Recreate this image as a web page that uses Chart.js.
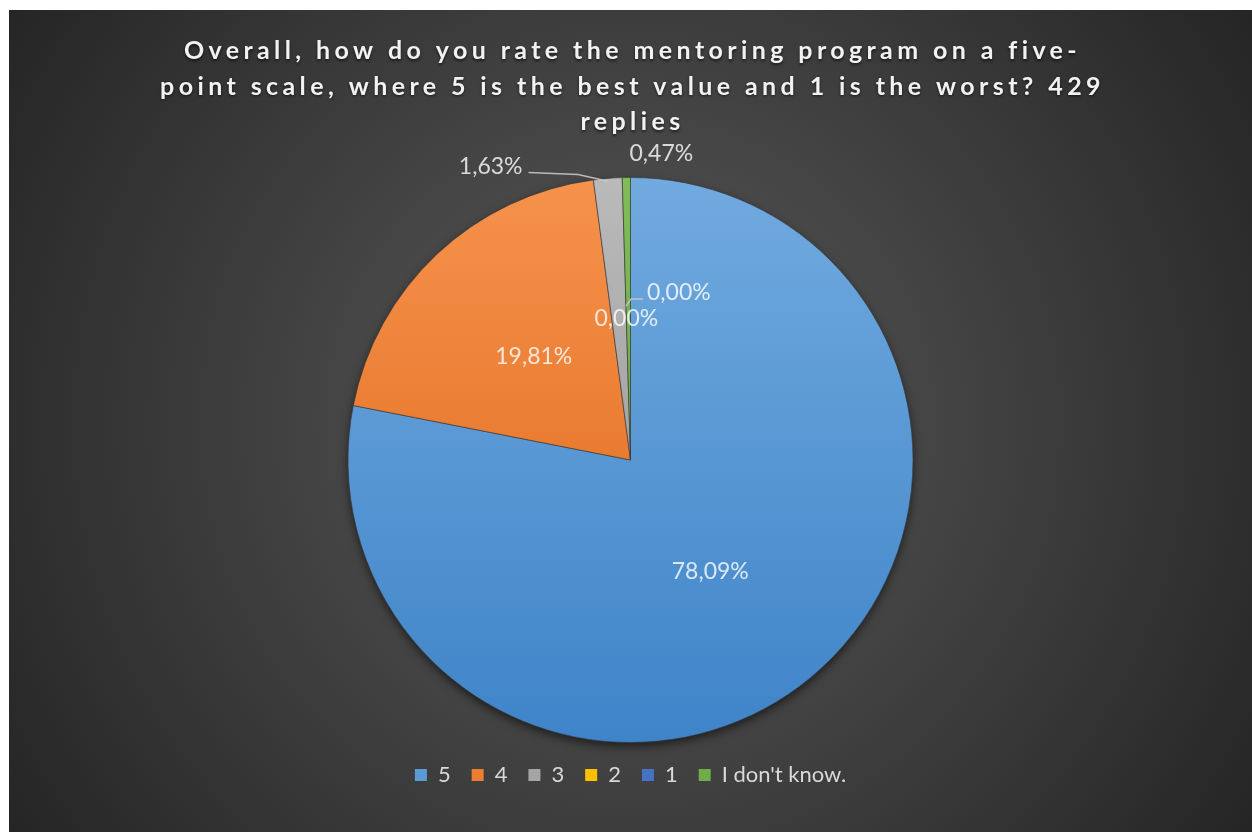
<!DOCTYPE html>
<html>
<head>
<meta charset="utf-8">
<script src="https://cdn.jsdelivr.net/npm/chart.js@4.4.1/dist/chart.umd.min.js"></script>
<style>
  html, body { margin: 0; padding: 0; background: #fff; }
  #wrap { position: absolute; left: 9px; top: 10px; width: 1243px; height: 822px; }
</style>
</head>
<body>
<div id="wrap"><canvas id="chart1"></canvas></div>
<script>
const titleLines = [
  'Overall, how do you rate the mentoring program on a five-',
  'point scale, where 5 is the best value and 1 is the worst? 429',
  'replies'
];
const categories = ['5', '4', '3', '2', '1', "I don't know."];
const replies = [335, 85, 7, 0, 0, 2];

// flat colours for the legend, top/bottom pairs for the slice shading
const sliceColors = ['#5b9bd5', '#ed7d31', '#a5a5a5', '#ffc000', '#4472c4', '#70ad47'];
const sliceTop = ['#71aadf', '#f6924c', '#bababa', '#ffcb2f', '#5582d0', '#80bd58'];
const sliceBottom = ['#3e84c8', '#dd6416', '#8e8e8e', '#f0b000', '#3763b5', '#5f9c38'];

const total = replies.reduce((a, b) => a + b, 0);
const pct = v => (v / total * 100).toFixed(2).replace('.', ',') + '%';

// background + title
const backdrop = {
  id: 'backdrop',
  beforeDraw(chart) {
    const { ctx, width, height } = chart;
    ctx.save();
    const g = ctx.createRadialGradient(width / 2, height * 0.5, 0, width / 2, height * 0.5, 760);
    g.addColorStop(0, '#5a5a5a');
    g.addColorStop(1, '#242424');
    ctx.fillStyle = g;
    ctx.fillRect(0, 0, width, height);

    ctx.font = 'bold 25px Lato';
    ctx.letterSpacing = '4.4px';
    ctx.textAlign = 'center';
    ctx.textBaseline = 'middle';
    ctx.fillStyle = '#f2f2f2';
    ctx.shadowColor = 'rgba(0,0,0,0.6)';
    ctx.shadowBlur = 3;
    ctx.shadowOffsetY = 1.5;
    titleLines.forEach((line, i) => ctx.fillText(line, width / 2 + 2, 41 + i * 35.5));
    ctx.restore();
  },
  // soft shadow under the pie
  beforeDatasetsDraw(chart) {
    const arc = chart.getDatasetMeta(0).data[0];
    if (!arc) return;
    const { x, y, outerRadius } = arc.getProps(['x', 'y', 'outerRadius'], true);
    const ctx = chart.ctx;
    ctx.save();
    ctx.shadowColor = 'rgba(0,0,0,0.55)';
    ctx.shadowBlur = 10;
    ctx.shadowOffsetY = 4;
    ctx.fillStyle = '#333';
    ctx.beginPath();
    ctx.arc(x, y, outerRadius, 0, Math.PI * 2);
    ctx.fill();
    ctx.restore();
  }
};

// percentage labels, some with leader lines
const pctLabels = {
  id: 'pctLabels',
  afterDatasetsDraw(chart) {
    const ctx = chart.ctx;
    const arcs = chart.getDatasetMeta(0).data;
    ctx.save();
    ctx.font = '23px Lato';
    ctx.fillStyle = 'rgba(255,255,255,0.8)';
    ctx.strokeStyle = 'rgba(200,200,200,0.9)';
    ctx.lineWidth = 1.5;
    ctx.textBaseline = 'middle';
    arcs.forEach((arc, i) => {
      const { x, y, startAngle, endAngle, outerRadius: r } =
        arc.getProps(['x', 'y', 'startAngle', 'endAngle', 'outerRadius'], true);
      const mid = (startAngle + endAngle) / 2;
      const at = k => ({ x: x + Math.cos(mid) * r * k, y: y + Math.sin(mid) * r * k });
      const text = pct(replies[i]);

      if (i === 0 || i === 1 || i === 3) {
        const p = at(0.5);
        ctx.textAlign = 'center';
        ctx.fillText(text, p.x + (i === 0 ? -10 : 0), p.y + (i === 0 ? 2 : 0));
      } else if (i === 2) {
        const right = x - 108, ty = y - r - 11;
        const end = at(0.99);
        ctx.textAlign = 'right';
        ctx.fillText(text, right, ty);
        ctx.beginPath();
        ctx.moveTo(right + 6, ty + 6);
        ctx.lineTo(end.x - 30, ty + 8);
        ctx.lineTo(end.x, end.y);
        ctx.stroke();
      } else if (i === 4) {
        const a = at(0.545);
        ctx.beginPath();
        ctx.moveTo(a.x, a.y);
        ctx.lineTo(a.x + 5, a.y - 7);
        ctx.lineTo(a.x + 17, a.y - 7);
        ctx.stroke();
        ctx.textAlign = 'left';
        ctx.fillText(text, a.x + 21, a.y - 14);
      } else {
        const p = at(1);
        ctx.textAlign = 'center';
        ctx.fillText(text, p.x + 35, y - r - 24);
      }
    });
    ctx.restore();
  }
};

const chart1 = document.getElementById('chart1');

new Chart(chart1, {
  type: 'pie',
  data: {
    labels: categories,
    datasets: [{
      data: replies,
      backgroundColor: (c) => {
        const area = c.chart.chartArea;
        if (!area) return sliceColors[c.dataIndex];
        const g = c.chart.ctx.createLinearGradient(0, area.top, 0, area.bottom);
        g.addColorStop(0, sliceTop[c.dataIndex]);
        g.addColorStop(1, sliceBottom[c.dataIndex]);
        return g;
      },
      borderColor: 'rgba(55,55,55,0.6)',
      borderWidth: 1
    }]
  },
  options: {
    responsive: true,
    maintainAspectRatio: false,
    animation: false,
    layout: { padding: { top: 167, bottom: 36 } },
    plugins: {
      tooltip: { enabled: false },
      legend: {
        position: 'bottom',
        labels: {
          boxWidth: 12,
          boxHeight: 12,
          padding: 21,
          color: '#d9d9d9',
          font: { family: 'Lato', size: 22 },
          generateLabels(chart) {
            const items = Chart.overrides.doughnut.plugins.legend.labels.generateLabels(chart);
            items.forEach((it, i) => {
              it.fillStyle = sliceColors[i];
              it.strokeStyle = sliceColors[i];
              it.lineWidth = 0;
              it.fontColor = '#d9d9d9';
            });
            return items;
          }
        }
      }
    }
  },
  plugins: [backdrop, pctLabels]
});
</script>
</body>
</html>
